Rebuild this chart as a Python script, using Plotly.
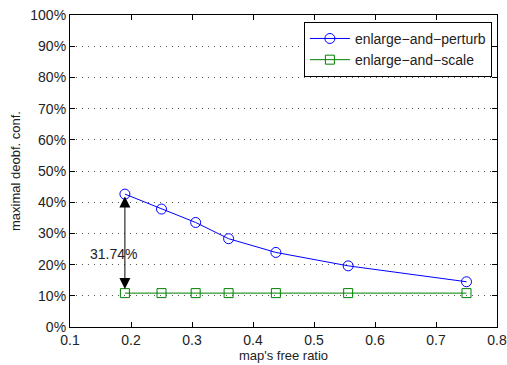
import plotly.graph_objects as go

free_ratio = [0.19, 0.25, 0.306, 0.36, 0.4375, 0.556, 0.75]
perturb = [42.6, 37.8, 33.5, 28.3, 23.9, 19.6, 14.5]
scale = [10.86, 10.86, 10.86, 10.86, 10.86, 10.86, 10.86]
x_ticks = [0.1, 0.2, 0.3, 0.4, 0.5, 0.6, 0.7, 0.8]
y_ticks = [0, 10, 20, 30, 40, 50, 60, 70, 80, 90, 100]
diff_label = "31.74%"

fig = go.Figure()
fig.add_trace(go.Scatter(
    x=free_ratio, y=perturb, mode="lines+markers", name="enlarge\u2212and\u2212perturb",
    line=dict(color="#0000ff", width=1),
    marker=dict(symbol="circle-open", size=10, color="#0000ff", line=dict(width=1)),
))
fig.add_trace(go.Scatter(
    x=free_ratio, y=scale, mode="lines+markers", name="enlarge\u2212and\u2212scale",
    line=dict(color="#008000", width=1),
    marker=dict(symbol="square-open", size=9, color="#008000", line=dict(width=1)),
))

fig.add_annotation(
    x=free_ratio[0], y=perturb[0] - 0.8, ax=free_ratio[0], ay=scale[0] + 0.8,
    xref="x", yref="y", axref="x", ayref="y", text="",
    showarrow=True, arrowhead=2, startarrowhead=2, arrowside="end+start",
    arrowsize=2.2, startarrowsize=2.2, arrowwidth=1, arrowcolor="black",
)
fig.add_annotation(
    x=0.1705, y=23.3, xref="x", yref="y", text=diff_label, showarrow=False,
    font=dict(size=14, color="#222"),
)

fig.update_layout(
    width=507, height=365,
    margin=dict(l=70, r=10, t=15, b=38),
    paper_bgcolor="white", plot_bgcolor="white",
    font=dict(family="Liberation Sans, Arial, sans-serif", size=14, color="#222"),
    legend=dict(
        x=0.988, y=0.978, xanchor="right", yanchor="top",
        bordercolor="black", borderwidth=1, bgcolor="white",
        font=dict(size=14), tracegroupgap=0, itemwidth=40,
    ),
    xaxis=dict(
        range=[0.1, 0.8], tickvals=x_ticks, ticktext=[f"{v:g}" for v in x_ticks],
        ticklabeloverflow="allow", automargin=False,
        showgrid=False, zeroline=False, showline=True, linecolor="black", linewidth=1.2,
        mirror="ticks", ticks="inside", ticklen=5, tickcolor="black",
        tickfont=dict(size=14),
        title=dict(text="map's free ratio", font=dict(size=13), standoff=1),
    ),
    yaxis=dict(
        range=[0, 100], tickvals=y_ticks, ticktext=[f"{v}%" for v in y_ticks],
        automargin=False,
        showgrid=True, gridcolor="#555", griddash="1px,5px", gridwidth=1,
        zeroline=False, showline=True, linecolor="black", linewidth=1.2,
        mirror="ticks", ticks="inside", ticklen=5, tickcolor="black",
        tickfont=dict(size=14),
        title=dict(text="maximal deobf. conf.", font=dict(size=13), standoff=6),
    ),
)

fig.write_html("out.html")
